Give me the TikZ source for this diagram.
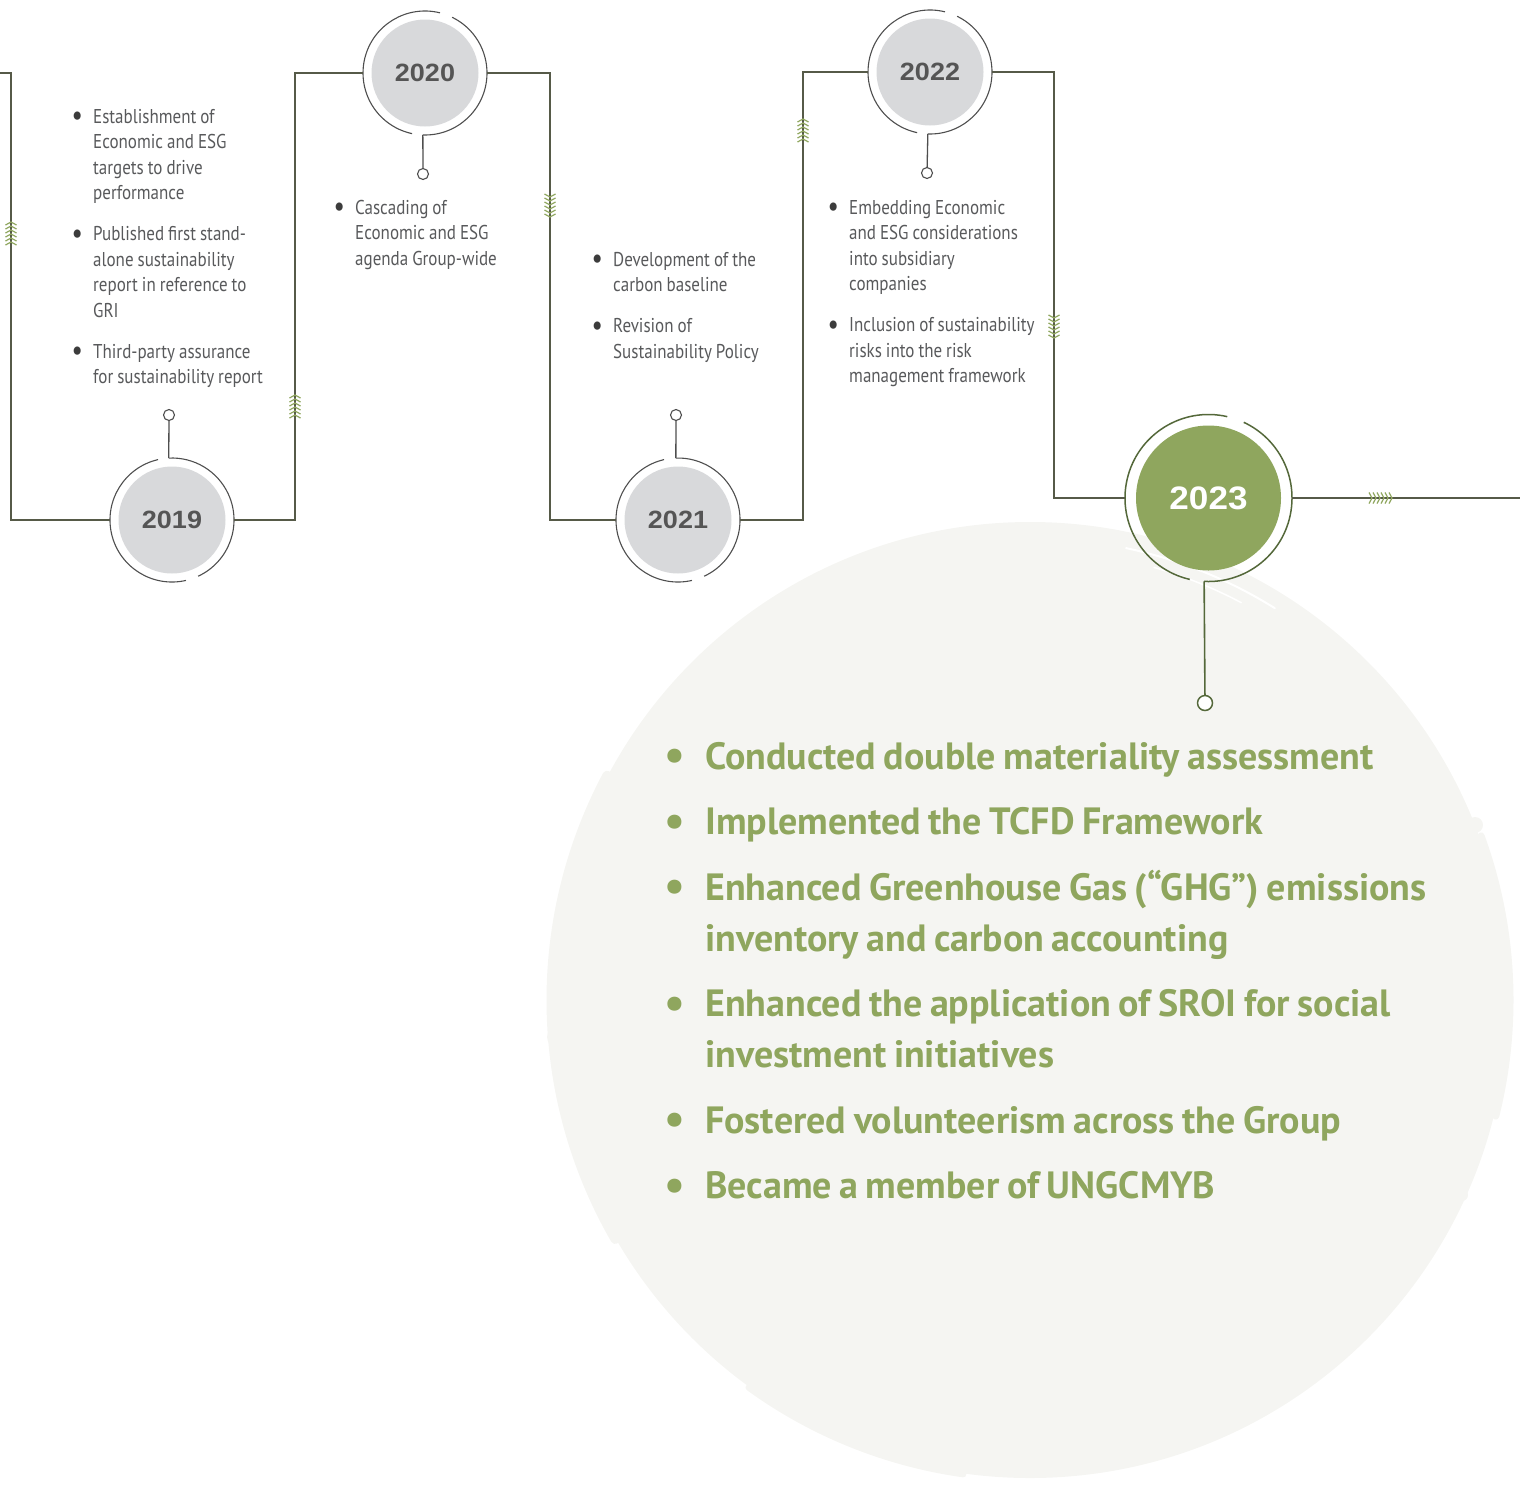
\documentclass[tikz,border=0pt]{standalone}
\usepackage{fontspec}
\setmainfont{PT Sans}
\newfontfamily\bodyfont[FakeStretch=0.85]{PT Sans}
\newfontfamily\greenfont[FakeStretch=1.0]{PT Sans}
\newfontfamily\yearfont[FakeStretch=1.08]{Liberation Sans}
\definecolor{linegrey}{RGB}{86,90,72}
\definecolor{ringgrey}{RGB}{78,78,78}
\definecolor{discgrey}{RGB}{216,217,219}
\definecolor{yeargrey}{RGB}{85,85,85}
\definecolor{textgrey}{RGB}{88,89,91}
\definecolor{dotgrey}{RGB}{60,60,60}
\definecolor{leaf}{RGB}{143,166,94}
\definecolor{darkleaf}{RGB}{84,104,58}
\definecolor{wash}{RGB}{245,245,242}

% bullet paragraphs with hanging indent
\newcommand\smalldot{{\color{dotgrey}\fontsize{27}{0}\selectfont\bfseries\raisebox{-1.5pt}{\textbullet}}}
\newcommand\bigdot{{\fontsize{46}{0}\selectfont\raisebox{-1.5pt}{\textbullet}}}
\newcommand\itm[3][21pt]{\hangindent=#1\hangafter=1\noindent\makebox[#1][l]{#2}#3\par}
% ring split into two arcs: node, radius, arc1 from/to, arc2 from/to, style
\newcommand\splitring[7]{%
  \draw[#7] (#1.center) ++(-#3:#2) arc[start angle=-#3, end angle=-#4, radius=#2];
  \draw[#7] (#1.center) ++(-#5:#2) arc[start angle=-#5, end angle=-#6, radius=#2];}

\tikzset{
  conn/.style={draw=linegrey, line width=1.8pt},
  ring/.style={draw=ringgrey, line width=1.1pt},
  ringgreen/.style={draw=darkleaf, line width=1.5pt},
  stem/.style={draw=ringgrey, line width=1.3pt},
  stemgreen/.style={draw=darkleaf, line width=1.6pt},
  chevline/.style={draw=leaf, line width=1.2pt},
  port/.style={circle, draw=ringgrey, line width=1.1pt, fill=white, minimum size=11pt, inner sep=0},
  portgreen/.style={circle, draw=darkleaf, line width=1.5pt, fill=white, minimum size=15pt, inner sep=0},
  ringslot/.style={circle, minimum size=124pt, inner sep=0},
  bigslot/.style={circle, minimum size=167pt, inner sep=0},
  yeardisc/.style={circle, fill=discgrey, minimum size=107pt, inner sep=0,
    font=\yearfont\bfseries\fontsize{25}{25}\selectfont, text=yeargrey},
  bigdisc/.style={circle, fill=leaf, minimum size=145pt, inner sep=0,
    font=\yearfont\bfseries\fontsize{32.5}{32.5}\selectfont, text=white},
  notes/.style={anchor=base west, inner sep=0, align=left, text=textgrey,
    font=\bodyfont\fontsize{20}{25.5}\selectfont},
  highlights/.style={anchor=base west, inner sep=0, align=left, text=leaf,
    font=\greenfont\bfseries\fontsize{38}{51}\selectfont},
  chevrons/.pic={\foreach \k in {0,...,5}{\draw[chevline] (-5.5,-10+4*\k+3) -- (0,-10+4*\k) -- (5.5,-10+4*\k+3);}}
}

\begin{document}
\begin{tikzpicture}[x=1pt,y=-1pt]
\useasboundingbox (0,0) rectangle (1520,1484);

% brushed wash behind the highlights
\fill[wash] (1030,1000) circle[radius=478];
\draw[wash, line width=9pt, line cap=round] (1030,1000) ++(-152:479) arc[start angle=-152, end angle=-210, radius=479];
\draw[wash, line width=7pt, line cap=round] (1030,1000) ++(14:480) arc[start angle=14, end angle=-20, radius=480];
\draw[wash, line width=6pt, line cap=round] (1030,1000) ++(-234:479) arc[start angle=-234, end angle=-262, radius=479];
\fill[wash] (1475,825) circle[radius=8];
\fill[wash] (1462,1195) circle[radius=6];
\fill[wash] (558,1037) circle[radius=11];
\draw[white, line width=2pt, line cap=round] (1030,1000) ++(-58:462) arc[start angle=-58, end angle=-78, radius=462];
\draw[white, line width=1.5pt, line cap=round] (1030,1000) ++(-62:450) arc[start angle=-62, end angle=-74, radius=450];

% year markers
\node[ringslot] (ring2019) at (172,520) {};
\node[ringslot] (ring2020) at (425,73) {};
\node[ringslot] (ring2021) at (678,520) {};
\node[ringslot] (ring2022) at (930,72) {};
\node[bigslot]  (ring2023) at (1208.5,498) {};

\node[yeardisc] (y2019) at (ring2019) {2019};
\node[yeardisc] (y2020) at (ring2020) {2020};
\node[yeardisc] (y2021) at (ring2021) {2021};
\node[yeardisc] (y2022) at (ring2022) {2022};
\node[bigdisc]  (y2023) at (ring2023) {2023};

\splitring{ring2019}{62}{103}{283}{295}{453}{ring}
\splitring{ring2020}{62}{76}{258}{268}{424}{ring}
\splitring{ring2021}{62}{103}{283}{295}{452}{ring}
\splitring{ring2022}{62}{76}{258}{268}{424}{ring}
\splitring{ring2023}{83.5}{77}{257}{267}{425}{ringgreen}

% stems with end ports
\path (ring2019.center) ++(-93:62) coordinate (j2019);
\path (ring2020.center) ++(-268:62) coordinate (j2020);
\path (ring2021.center) ++(-92:62) coordinate (j2021);
\path (ring2022.center) ++(-268:62) coordinate (j2022);
\path (ring2023.center) ++(-267:83.5) coordinate (j2023);

\node[port] (p2019) at (169,415) {};
\node[port] (p2020) at (423,174) {};
\node[port] (p2021) at (676,415) {};
\node[port] (p2022) at (927,173) {};
\node[portgreen] (p2023) at (1205,703) {};

\draw[stem] (p2019) -- (j2019);
\draw[stem] (p2020) -- (j2020);
\draw[stem] (p2021) -- (j2021);
\draw[stem] (p2022) -- (j2022);
\draw[stemgreen] (p2023) -- (j2023);

% timeline path
\coordinate (start) at (0,73);
\coordinate (finish) at (1520,498);
\draw[conn] (start) -- ++(11,0) |- (ring2019.west);
\draw[conn] (ring2019.east) -- ++(61,0) |- (ring2020.west);
\draw[conn] (ring2020.east) -- ++(63,0) |- (ring2021.west);
\draw[conn] (ring2021.east) -- ++(63,0) |- (ring2022.west);
\draw[conn] (ring2022.east) -- ++(62,0) |- (ring2023.west);
\draw[conn] (ring2023.east) -- (finish);

% direction marks
\pic at (11,232) {chevrons};
\pic at (295,405) {chevrons};
\pic[rotate=180] at (550,207) {chevrons};
\pic at (803,129) {chevrons};
\pic[rotate=180] at (1054,328) {chevrons};
\pic[rotate=-90] at (1382,498) {chevrons};

% milestones
\node[notes, text width=240pt] (n2019) at (72,123) {\setlength\parskip{15.5pt}\spaceskip=0.2em plus 0.05em\relax
  \itm{\smalldot}{Establishment of\newline Economic and ESG\newline targets to drive\newline performance}%
  \itm{\smalldot}{Published first stand-\newline alone sustainability\newline report in reference to\newline GRI}%
  \itm{\smalldot}{Third-party assurance\newline for sustainability report}};
\node[notes, text width=240pt] (n2020) at (334,214) {\setlength\parskip{15.5pt}\spaceskip=0.2em plus 0.05em\relax
  \itm{\smalldot}{Cascading of\newline Economic and ESG\newline agenda Group-wide}};
\node[notes, text width=240pt] (n2021) at (592,266) {\setlength\parskip{15.5pt}\spaceskip=0.2em plus 0.05em\relax
  \itm{\smalldot}{Development of the\newline carbon baseline}%
  \itm{\smalldot}{Revision of\newline Sustainability Policy}};
\node[notes, text width=240pt] (n2022) at (828,214) {\setlength\parskip{15.5pt}\spaceskip=0.2em plus 0.05em\relax
  \itm{\smalldot}{Embedding Economic\newline and ESG considerations\newline into subsidiary\newline companies}%
  \itm{\smalldot}{Inclusion of sustainability\newline risks into the risk\newline management framework}};
\node[highlights, text width=820pt] (n2023) at (664,769) {\setlength\parskip{14.5pt}\spaceskip=0.2em plus 0.05em\relax
  \itm[41pt]{\bigdot}{Conducted double materiality assessment}%
  \itm[41pt]{\bigdot}{Implemented the TCFD Framework}%
  \itm[41pt]{\bigdot}{Enhanced Greenhouse Gas (“GHG”) emissions\newline inventory and carbon accounting}%
  \itm[41pt]{\bigdot}{Enhanced the application of SROI for social\newline investment initiatives}%
  \itm[41pt]{\bigdot}{Fostered volunteerism across the Group}%
  \itm[41pt]{\bigdot}{Became a member of UNGCMYB}};
\end{tikzpicture}
\end{document}
